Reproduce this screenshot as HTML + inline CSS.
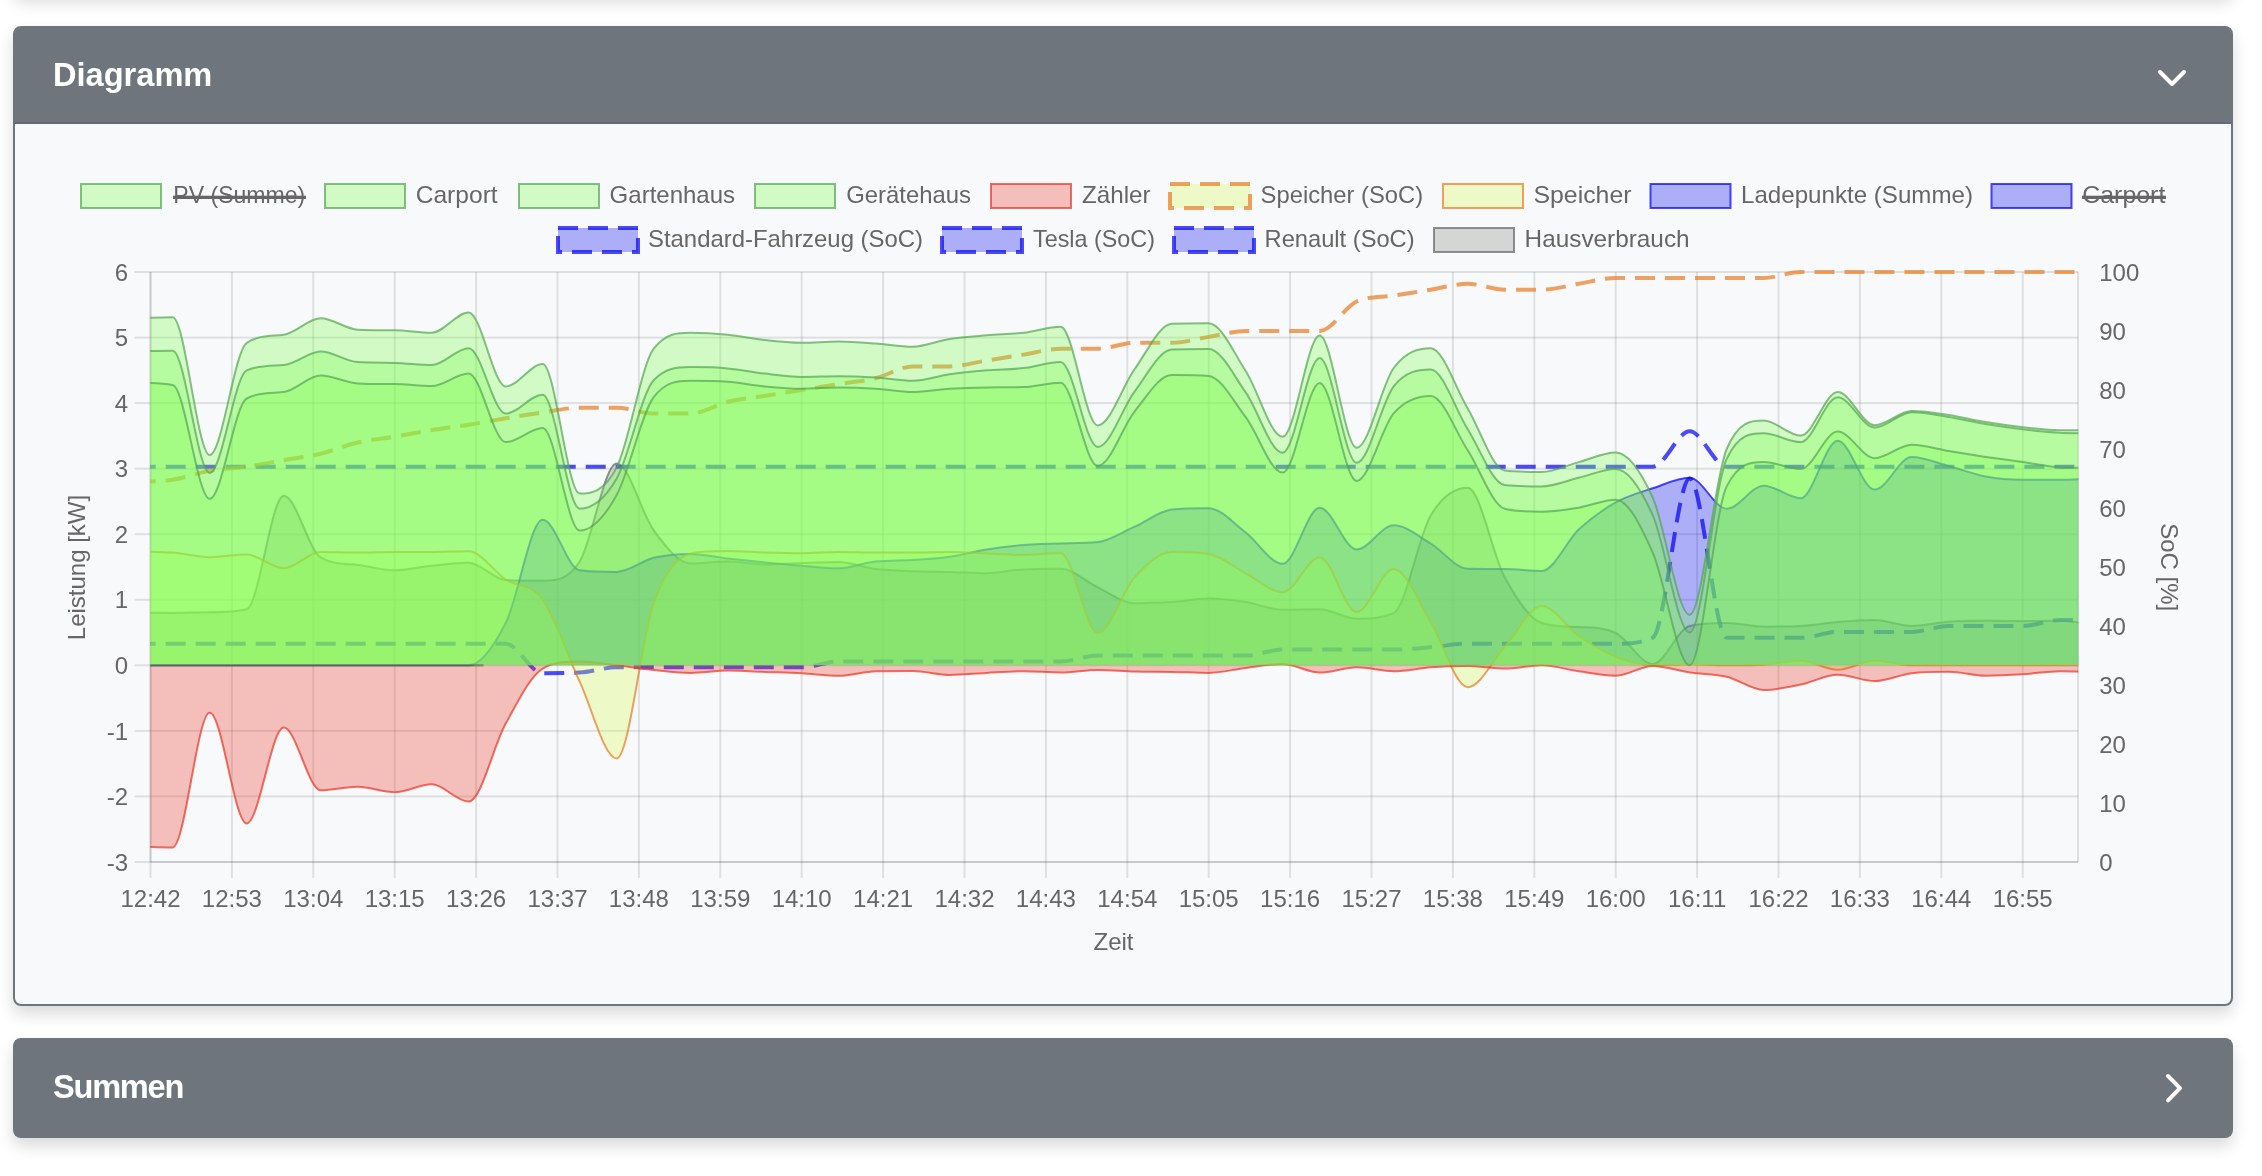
<!DOCTYPE html>
<html lang="de"><head><meta charset="utf-8"><title>Diagramm</title>
<style>
html,body{margin:0;padding:0;background:#fff;}
body{width:2262px;height:1176px;overflow:hidden;position:relative;font-family:"Liberation Sans",Arial,Helvetica,sans-serif;}
.card{position:absolute;left:13px;width:2220px;box-sizing:border-box;border:2px solid #6e757c;border-radius:8px;background:#f8f9fa;box-shadow:0 8px 16px rgba(0,0,0,.15);}
.hdr{background:#6e757c;color:#fff;font-weight:bold;font-size:32.6px;height:96px;line-height:96px;padding-left:38px;position:relative;}
.hdr span{display:inline-block;position:relative;top:-1px;will-change:transform;}
.c2 .hdr span{letter-spacing:-1.25px;}
.prev{top:-106px;height:100px;}
.c1{top:26px;height:980px;}
.c1 .hdr{border-radius:5px 5px 0 0;box-shadow:inset 0 -2px 0 rgba(0,0,0,.09);}
.c2{top:1038px;height:100px;background:#6e757c;}
.chev{position:absolute;}
svg{position:absolute;left:0;top:0;will-change:transform;}
svg text{font-family:"Liberation Sans",Arial,Helvetica,sans-serif;}
</style></head><body>
<div class="card prev"></div>
<div class="card c1"><div class="hdr"><span>Diagramm</span></div></div>
<div class="card c2"><div class="hdr"><span>Summen</span></div></div>
<svg width="2262" height="1176" viewBox="0 0 2262 1176">
<defs><clipPath id="ca"><rect x="150.2" y="269.0" width="1928.1" height="596.0"/></clipPath></defs>
<polyline points="2160,72 2172,84 2184,72" fill="none" stroke="#fff" stroke-width="4" stroke-linecap="round" stroke-linejoin="round"/>
<polyline points="2168,1076 2180,1088.2 2168,1100.4" fill="none" stroke="#fff" stroke-width="4" stroke-linecap="round" stroke-linejoin="round"/>
<g id="legend">
<rect x="81.0" y="184" width="80" height="24" fill="rgba(118,251,72,0.3)" stroke="rgba(83,165,81,0.7)" stroke-width="2"/>
<text x="173.3" y="203.4" fill="#666" font-size="24" textLength="132.0" lengthAdjust="spacingAndGlyphs">PV (Summe)</text>
<rect x="173.0" y="195.7" width="133.0" height="3.3" fill="#666"/>
<rect x="325.0" y="184" width="80" height="24" fill="rgba(118,251,72,0.3)" stroke="rgba(83,165,81,0.7)" stroke-width="2"/>
<text x="415.7" y="203.4" fill="#666" font-size="24" textLength="82.0" lengthAdjust="spacingAndGlyphs">Carport</text>
<rect x="519.0" y="184" width="80" height="24" fill="rgba(118,251,72,0.3)" stroke="rgba(83,165,81,0.7)" stroke-width="2"/>
<text x="609.6" y="203.4" fill="#666" font-size="24" textLength="125.5" lengthAdjust="spacingAndGlyphs">Gartenhaus</text>
<rect x="755.0" y="184" width="80" height="24" fill="rgba(118,251,72,0.3)" stroke="rgba(83,165,81,0.7)" stroke-width="2"/>
<text x="846.2" y="203.4" fill="#666" font-size="24" textLength="124.8" lengthAdjust="spacingAndGlyphs">Gerätehaus</text>
<rect x="991.0" y="184" width="80" height="24" fill="rgba(234,53,40,0.3)" stroke="rgba(234,51,35,0.7)" stroke-width="2"/>
<text x="1082.0" y="203.4" fill="#666" font-size="24" textLength="68.6" lengthAdjust="spacingAndGlyphs">Zähler</text>
<rect x="1170.0" y="184" width="80" height="24" fill="rgba(211,253,83,0.3)" stroke="rgba(231,122,33,0.7)" stroke-width="4" stroke-dasharray="20 10"/>
<text x="1260.6" y="203.4" fill="#666" font-size="24" textLength="162.5" lengthAdjust="spacingAndGlyphs">Speicher (SoC)</text>
<rect x="1443.0" y="184" width="80" height="24" fill="rgba(211,253,83,0.3)" stroke="rgba(231,122,33,0.7)" stroke-width="2"/>
<text x="1533.5" y="203.4" fill="#666" font-size="24" textLength="98.0" lengthAdjust="spacingAndGlyphs">Speicher</text>
<rect x="1650.5" y="184" width="80" height="24" fill="rgba(0,0,245,0.3)" stroke="rgba(0,0,245,0.7)" stroke-width="2"/>
<text x="1741.0" y="203.4" fill="#666" font-size="24" textLength="232.0" lengthAdjust="spacingAndGlyphs">Ladepunkte (Summe)</text>
<rect x="1991.5" y="184" width="80" height="24" fill="rgba(0,0,245,0.3)" stroke="rgba(0,0,245,0.7)" stroke-width="2"/>
<text x="2082.3" y="203.4" fill="#666" font-size="24" textLength="83.0" lengthAdjust="spacingAndGlyphs">Carport</text>
<rect x="2082.0" y="195.7" width="84.0" height="3.3" fill="#666"/>
<rect x="558.0" y="228" width="80" height="24" fill="rgba(0,0,245,0.3)" stroke="rgba(0,0,245,0.7)" stroke-width="4" stroke-dasharray="20 10"/>
<text x="648.0" y="247.4" fill="#666" font-size="24" textLength="275.0" lengthAdjust="spacingAndGlyphs">Standard-Fahrzeug (SoC)</text>
<rect x="942.0" y="228" width="80" height="24" fill="rgba(0,0,245,0.3)" stroke="rgba(0,0,245,0.7)" stroke-width="4" stroke-dasharray="20 10"/>
<text x="1033.0" y="247.4" fill="#666" font-size="24" textLength="122.0" lengthAdjust="spacingAndGlyphs">Tesla (SoC)</text>
<rect x="1174.0" y="228" width="80" height="24" fill="rgba(0,0,245,0.3)" stroke="rgba(0,0,245,0.7)" stroke-width="4" stroke-dasharray="20 10"/>
<text x="1264.6" y="247.4" fill="#666" font-size="24" textLength="150.0" lengthAdjust="spacingAndGlyphs">Renault (SoC)</text>
<rect x="1434.0" y="228" width="80" height="24" fill="rgba(128,128,128,0.3)" stroke="rgba(100,100,100,0.7)" stroke-width="2"/>
<text x="1524.6" y="247.4" fill="#666" font-size="24" textLength="165.0" lengthAdjust="spacingAndGlyphs">Hausverbrauch</text>
</g>
<g id="grid">
<rect x="149.5" y="272.0" width="2" height="606.0" fill="rgba(0,0,0,0.1)"/>
<rect x="230.9" y="272.0" width="2" height="606.0" fill="rgba(0,0,0,0.1)"/>
<rect x="312.3" y="272.0" width="2" height="606.0" fill="rgba(0,0,0,0.1)"/>
<rect x="393.7" y="272.0" width="2" height="606.0" fill="rgba(0,0,0,0.1)"/>
<rect x="475.1" y="272.0" width="2" height="606.0" fill="rgba(0,0,0,0.1)"/>
<rect x="556.5" y="272.0" width="2" height="606.0" fill="rgba(0,0,0,0.1)"/>
<rect x="637.9" y="272.0" width="2" height="606.0" fill="rgba(0,0,0,0.1)"/>
<rect x="719.3" y="272.0" width="2" height="606.0" fill="rgba(0,0,0,0.1)"/>
<rect x="800.7" y="272.0" width="2" height="606.0" fill="rgba(0,0,0,0.1)"/>
<rect x="882.1" y="272.0" width="2" height="606.0" fill="rgba(0,0,0,0.1)"/>
<rect x="963.5" y="272.0" width="2" height="606.0" fill="rgba(0,0,0,0.1)"/>
<rect x="1044.9" y="272.0" width="2" height="606.0" fill="rgba(0,0,0,0.1)"/>
<rect x="1126.3" y="272.0" width="2" height="606.0" fill="rgba(0,0,0,0.1)"/>
<rect x="1207.7" y="272.0" width="2" height="606.0" fill="rgba(0,0,0,0.1)"/>
<rect x="1289.1" y="272.0" width="2" height="606.0" fill="rgba(0,0,0,0.1)"/>
<rect x="1370.5" y="272.0" width="2" height="606.0" fill="rgba(0,0,0,0.1)"/>
<rect x="1451.9" y="272.0" width="2" height="606.0" fill="rgba(0,0,0,0.1)"/>
<rect x="1533.3" y="272.0" width="2" height="606.0" fill="rgba(0,0,0,0.1)"/>
<rect x="1614.7" y="272.0" width="2" height="606.0" fill="rgba(0,0,0,0.1)"/>
<rect x="1696.1" y="272.0" width="2" height="606.0" fill="rgba(0,0,0,0.1)"/>
<rect x="1777.5" y="272.0" width="2" height="606.0" fill="rgba(0,0,0,0.1)"/>
<rect x="1858.9" y="272.0" width="2" height="606.0" fill="rgba(0,0,0,0.1)"/>
<rect x="1940.3" y="272.0" width="2" height="606.0" fill="rgba(0,0,0,0.1)"/>
<rect x="2021.7" y="272.0" width="2" height="606.0" fill="rgba(0,0,0,0.1)"/>
<rect x="134.5" y="271.0" width="1943.5" height="2" fill="rgba(0,0,0,0.1)"/>
<rect x="134.5" y="336.6" width="1943.5" height="2" fill="rgba(0,0,0,0.1)"/>
<rect x="134.5" y="402.1" width="1943.5" height="2" fill="rgba(0,0,0,0.1)"/>
<rect x="134.5" y="467.7" width="1943.5" height="2" fill="rgba(0,0,0,0.1)"/>
<rect x="134.5" y="533.2" width="1943.5" height="2" fill="rgba(0,0,0,0.1)"/>
<rect x="134.5" y="598.8" width="1943.5" height="2" fill="rgba(0,0,0,0.1)"/>
<rect x="134.5" y="664.3" width="1943.5" height="2" fill="rgba(0,0,0,0.1)"/>
<rect x="134.5" y="729.9" width="1943.5" height="2" fill="rgba(0,0,0,0.1)"/>
<rect x="134.5" y="795.4" width="1943.5" height="2" fill="rgba(0,0,0,0.1)"/>
<rect x="134.5" y="861.0" width="1943.5" height="2" fill="rgba(0,0,0,0.1)"/>
<rect x="149.5" y="272.0" width="2" height="590.0" fill="rgba(0,0,0,0.1)"/>
<rect x="2077.0" y="272.0" width="2" height="590.0" fill="rgba(0,0,0,0.1)"/>
<rect x="150.5" y="861.0" width="1927.5" height="2" fill="rgba(0,0,0,0.1)"/>
</g>
<g id="series" clip-path="url(#ca)">
<path d="M135.7,612.7C148.0,612.76 160.4,612.89 172.7,612.9C185.0,612.89 197.4,612.33 209.7,612.2C222.0,612.13 234.4,612.23 246.7,609.2C259.0,606.07 271.4,495.74 283.7,495.7C296.0,495.74 308.4,549.95 320.7,557.4C333.0,564.91 345.4,563.65 357.7,565.0C370.0,566.42 382.4,570.28 394.7,570.3C407.0,570.28 419.4,566.95 431.7,565.7C444.0,564.43 456.4,562.74 468.7,562.7C481.0,562.74 493.4,579.46 505.7,580.1C518.0,580.77 530.4,580.77 542.7,580.8C555.0,580.77 567.4,580.77 579.7,561.5C592.0,542.22 604.4,463.42 616.7,463.4C629.0,463.42 641.4,513.63 653.7,530.3C666.0,546.95 678.4,563.39 690.7,563.4C703.0,563.39 715.4,561.36 727.7,561.4C740.0,561.36 752.4,564.38 764.7,564.4C777.0,564.38 789.4,563.45 801.7,563.1C814.0,562.68 826.4,562.08 838.7,562.1C851.0,562.08 863.4,567.44 875.7,569.0C888.0,570.50 900.4,570.77 912.7,571.3C925.0,571.75 937.4,571.58 949.7,571.9C962.0,572.26 974.4,573.29 986.7,573.3C999.0,573.29 1011.4,569.95 1023.7,569.4C1036.0,568.77 1048.4,568.77 1060.7,568.8C1073.0,568.77 1085.4,581.59 1097.7,587.3C1110.0,593.06 1122.4,603.19 1134.7,603.2C1147.0,603.19 1159.4,602.90 1171.7,602.1C1184.0,601.37 1196.4,598.60 1208.7,598.6C1221.0,598.60 1233.4,600.28 1245.7,602.1C1258.0,604.00 1270.4,609.74 1282.7,609.7C1295.0,609.74 1307.4,609.15 1319.7,609.2C1332.0,609.15 1344.4,618.66 1356.7,618.7C1369.0,618.66 1381.4,618.66 1393.7,613.1C1406.0,607.51 1418.4,536.51 1430.7,515.6C1443.0,494.70 1455.4,487.68 1467.7,487.7C1480.0,487.68 1492.4,554.73 1504.7,577.3C1517.0,599.85 1529.4,619.13 1541.7,623.0C1554.0,626.97 1566.4,626.29 1578.7,627.0C1591.0,627.80 1603.4,627.10 1615.7,633.0C1628.0,638.93 1640.4,664.02 1652.7,664.0C1665.0,664.02 1677.4,628.95 1689.7,626.0C1702.0,623.05 1714.4,623.05 1726.7,623.0C1739.0,623.05 1751.4,626.66 1763.7,626.7C1776.0,626.66 1788.4,626.66 1800.7,626.0C1813.0,625.34 1825.4,623.05 1837.7,622.1C1850.0,621.08 1862.4,620.10 1874.7,620.1C1887.0,620.10 1899.4,626.00 1911.7,626.0C1924.0,626.00 1936.4,622.55 1948.7,621.7C1961.0,620.80 1973.4,620.76 1985.7,620.8C1998.0,620.76 2010.4,621.08 2022.7,621.1C2035.0,621.08 2047.4,620.76 2059.7,620.8C2072.0,620.76 2084.4,623.60 2096.7,625.0L2096.7,665.3L135.7,665.3Z" fill="rgba(128,128,128,0.3)"/>
<path d="M135.7,612.7C148.0,612.76 160.4,612.89 172.7,612.9C185.0,612.89 197.4,612.33 209.7,612.2C222.0,612.13 234.4,612.23 246.7,609.2C259.0,606.07 271.4,495.74 283.7,495.7C296.0,495.74 308.4,549.95 320.7,557.4C333.0,564.91 345.4,563.65 357.7,565.0C370.0,566.42 382.4,570.28 394.7,570.3C407.0,570.28 419.4,566.95 431.7,565.7C444.0,564.43 456.4,562.74 468.7,562.7C481.0,562.74 493.4,579.46 505.7,580.1C518.0,580.77 530.4,580.77 542.7,580.8C555.0,580.77 567.4,580.77 579.7,561.5C592.0,542.22 604.4,463.42 616.7,463.4C629.0,463.42 641.4,513.63 653.7,530.3C666.0,546.95 678.4,563.39 690.7,563.4C703.0,563.39 715.4,561.36 727.7,561.4C740.0,561.36 752.4,564.38 764.7,564.4C777.0,564.38 789.4,563.45 801.7,563.1C814.0,562.68 826.4,562.08 838.7,562.1C851.0,562.08 863.4,567.44 875.7,569.0C888.0,570.50 900.4,570.77 912.7,571.3C925.0,571.75 937.4,571.58 949.7,571.9C962.0,572.26 974.4,573.29 986.7,573.3C999.0,573.29 1011.4,569.95 1023.7,569.4C1036.0,568.77 1048.4,568.77 1060.7,568.8C1073.0,568.77 1085.4,581.59 1097.7,587.3C1110.0,593.06 1122.4,603.19 1134.7,603.2C1147.0,603.19 1159.4,602.90 1171.7,602.1C1184.0,601.37 1196.4,598.60 1208.7,598.6C1221.0,598.60 1233.4,600.28 1245.7,602.1C1258.0,604.00 1270.4,609.74 1282.7,609.7C1295.0,609.74 1307.4,609.15 1319.7,609.2C1332.0,609.15 1344.4,618.66 1356.7,618.7C1369.0,618.66 1381.4,618.66 1393.7,613.1C1406.0,607.51 1418.4,536.51 1430.7,515.6C1443.0,494.70 1455.4,487.68 1467.7,487.7C1480.0,487.68 1492.4,554.73 1504.7,577.3C1517.0,599.85 1529.4,619.13 1541.7,623.0C1554.0,626.97 1566.4,626.29 1578.7,627.0C1591.0,627.80 1603.4,627.10 1615.7,633.0C1628.0,638.93 1640.4,664.02 1652.7,664.0C1665.0,664.02 1677.4,628.95 1689.7,626.0C1702.0,623.05 1714.4,623.05 1726.7,623.0C1739.0,623.05 1751.4,626.66 1763.7,626.7C1776.0,626.66 1788.4,626.66 1800.7,626.0C1813.0,625.34 1825.4,623.05 1837.7,622.1C1850.0,621.08 1862.4,620.10 1874.7,620.1C1887.0,620.10 1899.4,626.00 1911.7,626.0C1924.0,626.00 1936.4,622.55 1948.7,621.7C1961.0,620.80 1973.4,620.76 1985.7,620.8C1998.0,620.76 2010.4,621.08 2022.7,621.1C2035.0,621.08 2047.4,620.76 2059.7,620.8C2072.0,620.76 2084.4,623.60 2096.7,625.0" fill="none" stroke="rgba(100,100,100,0.7)" stroke-width="2"/>
<path d="M135.7,643.7C148.0,643.70 160.4,643.70 172.7,643.7C185.0,643.70 197.4,643.70 209.7,643.7C222.0,643.70 234.4,643.70 246.7,643.7C259.0,643.70 271.4,643.70 283.7,643.7C296.0,643.70 308.4,643.70 320.7,643.7C333.0,643.70 345.4,643.70 357.7,643.7C370.0,643.70 382.4,643.70 394.7,643.7C407.0,643.70 419.4,643.70 431.7,643.7C444.0,643.70 456.4,643.70 468.7,643.7C481.0,643.70 493.4,643.70 505.7,643.7C518.0,643.70 530.4,673.20 542.7,673.2C555.0,673.20 567.4,673.20 579.7,672.6C592.0,672.02 604.4,667.30 616.7,667.3C629.0,667.30 641.4,667.30 653.7,667.3C666.0,667.30 678.4,667.30 690.7,667.3C703.0,667.30 715.4,667.30 727.7,667.3C740.0,667.30 752.4,667.30 764.7,667.3C777.0,667.30 789.4,667.30 801.7,667.3C814.0,667.30 826.4,661.40 838.7,661.4C851.0,661.40 863.4,661.40 875.7,661.4C888.0,661.40 900.4,661.40 912.7,661.4C925.0,661.40 937.4,661.40 949.7,661.4C962.0,661.40 974.4,661.40 986.7,661.4C999.0,661.40 1011.4,661.40 1023.7,661.4C1036.0,661.40 1048.4,661.40 1060.7,661.4C1073.0,661.40 1085.4,655.50 1097.7,655.5C1110.0,655.50 1122.4,655.50 1134.7,655.5C1147.0,655.50 1159.4,655.50 1171.7,655.5C1184.0,655.50 1196.4,655.50 1208.7,655.5C1221.0,655.50 1233.4,655.50 1245.7,655.5C1258.0,655.50 1270.4,649.60 1282.7,649.6C1295.0,649.60 1307.4,649.60 1319.7,649.6C1332.0,649.60 1344.4,649.60 1356.7,649.6C1369.0,649.60 1381.4,649.60 1393.7,649.6C1406.0,649.60 1418.4,648.22 1430.7,647.2C1443.0,646.26 1455.4,643.70 1467.7,643.7C1480.0,643.70 1492.4,643.70 1504.7,643.7C1517.0,643.70 1529.4,643.70 1541.7,643.7C1554.0,643.70 1566.4,643.70 1578.7,643.7C1591.0,643.70 1603.4,643.70 1615.7,643.7C1628.0,643.70 1640.4,643.70 1652.7,637.8C1665.0,631.90 1677.4,478.50 1689.7,478.5C1702.0,478.50 1714.4,637.80 1726.7,637.8C1739.0,637.80 1751.4,637.80 1763.7,637.8C1776.0,637.80 1788.4,637.80 1800.7,637.8C1813.0,637.80 1825.4,631.90 1837.7,631.9C1850.0,631.90 1862.4,631.90 1874.7,631.9C1887.0,631.90 1899.4,631.90 1911.7,631.9C1924.0,631.90 1936.4,626.00 1948.7,626.0C1961.0,626.00 1973.4,626.00 1985.7,626.0C1998.0,626.00 2010.4,626.00 2022.7,626.0C2035.0,626.00 2047.4,620.10 2059.7,620.1C2072.0,620.10 2084.4,620.10 2096.7,620.1" fill="none" stroke="rgba(0,0,245,0.7)" stroke-width="4" stroke-dasharray="20 10"/>
<path d="M135.7,466.7C148.0,466.70 160.4,466.70 172.7,466.7C185.0,466.70 197.4,466.70 209.7,466.7C222.0,466.70 234.4,466.70 246.7,466.7C259.0,466.70 271.4,466.70 283.7,466.7C296.0,466.70 308.4,466.70 320.7,466.7C333.0,466.70 345.4,466.70 357.7,466.7C370.0,466.70 382.4,466.70 394.7,466.7C407.0,466.70 419.4,466.70 431.7,466.7C444.0,466.70 456.4,466.70 468.7,466.7C481.0,466.70 493.4,466.70 505.7,466.7C518.0,466.70 530.4,466.70 542.7,466.7C555.0,466.70 567.4,466.70 579.7,466.7C592.0,466.70 604.4,466.70 616.7,466.7C629.0,466.70 641.4,466.70 653.7,466.7C666.0,466.70 678.4,466.70 690.7,466.7C703.0,466.70 715.4,466.70 727.7,466.7C740.0,466.70 752.4,466.70 764.7,466.7C777.0,466.70 789.4,466.70 801.7,466.7C814.0,466.70 826.4,466.70 838.7,466.7C851.0,466.70 863.4,466.70 875.7,466.7C888.0,466.70 900.4,466.70 912.7,466.7C925.0,466.70 937.4,466.70 949.7,466.7C962.0,466.70 974.4,466.70 986.7,466.7C999.0,466.70 1011.4,466.70 1023.7,466.7C1036.0,466.70 1048.4,466.70 1060.7,466.7C1073.0,466.70 1085.4,466.70 1097.7,466.7C1110.0,466.70 1122.4,466.70 1134.7,466.7C1147.0,466.70 1159.4,466.70 1171.7,466.7C1184.0,466.70 1196.4,466.70 1208.7,466.7C1221.0,466.70 1233.4,466.70 1245.7,466.7C1258.0,466.70 1270.4,466.70 1282.7,466.7C1295.0,466.70 1307.4,466.70 1319.7,466.7C1332.0,466.70 1344.4,466.70 1356.7,466.7C1369.0,466.70 1381.4,466.70 1393.7,466.7C1406.0,466.70 1418.4,466.70 1430.7,466.7C1443.0,466.70 1455.4,466.70 1467.7,466.7C1480.0,466.70 1492.4,466.70 1504.7,466.7C1517.0,466.70 1529.4,466.70 1541.7,466.7C1554.0,466.70 1566.4,466.70 1578.7,466.7C1591.0,466.70 1603.4,466.70 1615.7,466.7C1628.0,466.70 1640.4,466.70 1652.7,466.7C1665.0,466.70 1677.4,431.30 1689.7,431.3C1702.0,431.30 1714.4,466.70 1726.7,466.7C1739.0,466.70 1751.4,466.70 1763.7,466.7C1776.0,466.70 1788.4,466.70 1800.7,466.7C1813.0,466.70 1825.4,466.70 1837.7,466.7C1850.0,466.70 1862.4,466.70 1874.7,466.7C1887.0,466.70 1899.4,466.70 1911.7,466.7C1924.0,466.70 1936.4,466.70 1948.7,466.7C1961.0,466.70 1973.4,466.70 1985.7,466.7C1998.0,466.70 2010.4,466.70 2022.7,466.7C2035.0,466.70 2047.4,466.70 2059.7,466.7C2072.0,466.70 2084.4,466.70 2096.7,466.7" fill="none" stroke="rgba(0,0,245,0.7)" stroke-width="4" stroke-dasharray="20 10"/>
<path d="M135.7,665.3C148.0,665.33 160.4,665.33 172.7,665.3C185.0,665.33 197.4,665.33 209.7,665.3C222.0,665.33 234.4,665.33 246.7,665.3C259.0,665.33 271.4,665.33 283.7,665.3C296.0,665.33 308.4,665.33 320.7,665.3C333.0,665.33 345.4,665.33 357.7,665.3C370.0,665.33 382.4,665.33 394.7,665.3C407.0,665.33 419.4,665.33 431.7,665.3C444.0,665.33 456.4,665.33 468.7,665.3C481.0,665.33 493.4,647.31 505.7,623.0C518.0,598.79 530.4,519.80 542.7,519.8C555.0,519.80 567.4,568.64 579.7,570.3C592.0,571.92 604.4,571.92 616.7,571.9C629.0,571.92 641.4,560.83 653.7,557.8C666.0,554.82 678.4,553.89 690.7,553.9C703.0,553.89 715.4,557.06 727.7,558.5C740.0,559.90 752.4,561.21 764.7,562.4C777.0,563.61 789.4,564.71 801.7,565.7C814.0,566.67 826.4,568.31 838.7,568.3C851.0,568.31 863.4,562.57 875.7,561.4C888.0,560.15 900.4,560.64 912.7,560.0C925.0,559.33 937.4,558.60 949.7,556.8C962.0,555.08 974.4,551.40 986.7,549.4C999.0,547.46 1011.4,546.03 1023.7,545.0C1036.0,544.04 1048.4,543.70 1060.7,543.5C1073.0,543.23 1085.4,543.45 1097.7,542.1C1110.0,540.73 1122.4,531.96 1134.7,526.6C1147.0,521.14 1159.4,511.02 1171.7,509.6C1184.0,508.26 1196.4,508.26 1208.7,508.3C1221.0,508.26 1233.4,523.27 1245.7,532.5C1258.0,541.76 1270.4,563.72 1282.7,563.7C1295.0,563.72 1307.4,507.67 1319.7,507.7C1332.0,507.67 1344.4,549.43 1356.7,549.4C1369.0,549.43 1381.4,525.18 1393.7,525.2C1406.0,525.18 1418.4,536.20 1430.7,543.5C1443.0,550.73 1455.4,568.57 1467.7,568.8C1480.0,568.97 1492.4,568.95 1504.7,569.0C1517.0,568.98 1529.4,570.93 1541.7,570.9C1554.0,570.93 1566.4,541.05 1578.7,529.6C1591.0,518.22 1603.4,509.31 1615.7,502.4C1628.0,495.54 1640.4,492.43 1652.7,488.3C1665.0,484.24 1677.4,477.84 1689.7,477.8C1702.0,477.84 1714.4,508.66 1726.7,508.7C1739.0,508.66 1751.4,485.71 1763.7,485.7C1776.0,485.71 1788.4,498.17 1800.7,498.2C1813.0,498.17 1825.4,440.74 1837.7,440.7C1850.0,440.74 1862.4,489.64 1874.7,489.6C1887.0,489.64 1899.4,456.87 1911.7,456.9C1924.0,456.87 1936.4,462.77 1948.7,466.0C1961.0,469.32 1973.4,474.24 1985.7,476.5C1998.0,478.83 2010.4,479.81 2022.7,479.8C2035.0,479.81 2047.4,479.81 2059.7,479.8C2072.0,479.81 2084.4,478.94 2096.7,478.5L2096.7,665.3L135.7,665.3Z" fill="rgba(0,0,245,0.3)"/>
<path d="M135.7,665.3C148.0,665.33 160.4,665.33 172.7,665.3C185.0,665.33 197.4,665.33 209.7,665.3C222.0,665.33 234.4,665.33 246.7,665.3C259.0,665.33 271.4,665.33 283.7,665.3C296.0,665.33 308.4,665.33 320.7,665.3C333.0,665.33 345.4,665.33 357.7,665.3C370.0,665.33 382.4,665.33 394.7,665.3C407.0,665.33 419.4,665.33 431.7,665.3C444.0,665.33 456.4,665.33 468.7,665.3C481.0,665.33 493.4,647.31 505.7,623.0C518.0,598.79 530.4,519.80 542.7,519.8C555.0,519.80 567.4,568.64 579.7,570.3C592.0,571.92 604.4,571.92 616.7,571.9C629.0,571.92 641.4,560.83 653.7,557.8C666.0,554.82 678.4,553.89 690.7,553.9C703.0,553.89 715.4,557.06 727.7,558.5C740.0,559.90 752.4,561.21 764.7,562.4C777.0,563.61 789.4,564.71 801.7,565.7C814.0,566.67 826.4,568.31 838.7,568.3C851.0,568.31 863.4,562.57 875.7,561.4C888.0,560.15 900.4,560.64 912.7,560.0C925.0,559.33 937.4,558.60 949.7,556.8C962.0,555.08 974.4,551.40 986.7,549.4C999.0,547.46 1011.4,546.03 1023.7,545.0C1036.0,544.04 1048.4,543.70 1060.7,543.5C1073.0,543.23 1085.4,543.45 1097.7,542.1C1110.0,540.73 1122.4,531.96 1134.7,526.6C1147.0,521.14 1159.4,511.02 1171.7,509.6C1184.0,508.26 1196.4,508.26 1208.7,508.3C1221.0,508.26 1233.4,523.27 1245.7,532.5C1258.0,541.76 1270.4,563.72 1282.7,563.7C1295.0,563.72 1307.4,507.67 1319.7,507.7C1332.0,507.67 1344.4,549.43 1356.7,549.4C1369.0,549.43 1381.4,525.18 1393.7,525.2C1406.0,525.18 1418.4,536.20 1430.7,543.5C1443.0,550.73 1455.4,568.57 1467.7,568.8C1480.0,568.97 1492.4,568.95 1504.7,569.0C1517.0,568.98 1529.4,570.93 1541.7,570.9C1554.0,570.93 1566.4,541.05 1578.7,529.6C1591.0,518.22 1603.4,509.31 1615.7,502.4C1628.0,495.54 1640.4,492.43 1652.7,488.3C1665.0,484.24 1677.4,477.84 1689.7,477.8C1702.0,477.84 1714.4,508.66 1726.7,508.7C1739.0,508.66 1751.4,485.71 1763.7,485.7C1776.0,485.71 1788.4,498.17 1800.7,498.2C1813.0,498.17 1825.4,440.74 1837.7,440.7C1850.0,440.74 1862.4,489.64 1874.7,489.6C1887.0,489.64 1899.4,456.87 1911.7,456.9C1924.0,456.87 1936.4,462.77 1948.7,466.0C1961.0,469.32 1973.4,474.24 1985.7,476.5C1998.0,478.83 2010.4,479.81 2022.7,479.8C2035.0,479.81 2047.4,479.81 2059.7,479.8C2072.0,479.81 2084.4,478.94 2096.7,478.5" fill="none" stroke="rgba(0,0,245,0.7)" stroke-width="2"/>
<path d="M135.7,551.3C148.0,551.70 160.4,551.59 172.7,552.6C185.0,553.56 197.4,557.17 209.7,557.2C222.0,557.17 234.4,554.54 246.7,554.5C259.0,554.54 271.4,568.31 283.7,568.3C296.0,568.31 308.4,551.92 320.7,551.9C333.0,551.92 345.4,552.58 357.7,552.6C370.0,552.58 382.4,551.92 394.7,551.9C407.0,551.92 419.4,551.92 431.7,551.9C444.0,551.92 456.4,551.27 468.7,551.3C481.0,551.27 493.4,571.37 505.7,579.5C518.0,587.54 530.4,582.73 542.7,599.8C555.0,616.82 567.4,655.28 579.7,681.7C592.0,708.16 604.4,758.42 616.7,758.4C629.0,758.42 641.4,637.22 653.7,603.1C666.0,568.89 678.4,555.86 690.7,553.4C703.0,551.00 715.4,551.00 727.7,551.0C740.0,551.00 752.4,552.21 764.7,552.6C777.0,552.95 789.4,553.23 801.7,553.2C814.0,553.23 826.4,551.92 838.7,551.9C851.0,551.92 863.4,552.58 875.7,552.6C888.0,552.58 900.4,552.58 912.7,552.6C925.0,552.58 937.4,551.92 949.7,551.9C962.0,551.92 974.4,552.92 986.7,553.4C999.0,553.94 1011.4,555.00 1023.7,555.0C1036.0,555.00 1048.4,553.04 1060.7,553.0C1073.0,553.04 1085.4,633.01 1097.7,633.0C1110.0,633.01 1122.4,590.79 1134.7,577.3C1147.0,563.80 1159.4,552.05 1171.7,552.1C1184.0,552.05 1196.4,552.05 1208.7,553.9C1221.0,555.72 1233.4,566.90 1245.7,573.3C1258.0,579.68 1270.4,592.24 1282.7,592.2C1295.0,592.24 1307.4,557.43 1319.7,557.4C1332.0,557.43 1344.4,612.10 1356.7,612.1C1369.0,612.10 1381.4,568.97 1393.7,569.0C1406.0,568.97 1418.4,602.36 1430.7,622.1C1443.0,641.78 1455.4,687.23 1467.7,687.2C1480.0,687.23 1492.4,660.50 1504.7,647.0C1517.0,633.45 1529.4,606.07 1541.7,606.1C1554.0,606.07 1566.4,627.51 1578.7,636.0C1591.0,644.42 1603.4,651.92 1615.7,656.8C1628.0,661.71 1640.4,665.33 1652.7,665.3C1665.0,665.33 1677.4,664.02 1689.7,664.0C1702.0,664.02 1714.4,665.33 1726.7,665.3C1739.0,665.33 1751.4,665.33 1763.7,664.7C1776.0,664.02 1788.4,660.74 1800.7,660.7C1813.0,660.74 1825.4,669.73 1837.7,669.7C1850.0,669.73 1862.4,660.74 1874.7,660.7C1887.0,660.74 1899.4,665.33 1911.7,665.3C1924.0,665.33 1936.4,665.33 1948.7,665.3C1961.0,665.33 1973.4,665.33 1985.7,665.3C1998.0,665.33 2010.4,665.33 2022.7,665.3C2035.0,665.33 2047.4,665.33 2059.7,665.3C2072.0,665.33 2084.4,665.33 2096.7,665.3L2096.7,665.3L135.7,665.3Z" fill="rgba(211,253,83,0.3)"/>
<path d="M135.7,551.3C148.0,551.70 160.4,551.59 172.7,552.6C185.0,553.56 197.4,557.17 209.7,557.2C222.0,557.17 234.4,554.54 246.7,554.5C259.0,554.54 271.4,568.31 283.7,568.3C296.0,568.31 308.4,551.92 320.7,551.9C333.0,551.92 345.4,552.58 357.7,552.6C370.0,552.58 382.4,551.92 394.7,551.9C407.0,551.92 419.4,551.92 431.7,551.9C444.0,551.92 456.4,551.27 468.7,551.3C481.0,551.27 493.4,571.37 505.7,579.5C518.0,587.54 530.4,582.73 542.7,599.8C555.0,616.82 567.4,655.28 579.7,681.7C592.0,708.16 604.4,758.42 616.7,758.4C629.0,758.42 641.4,637.22 653.7,603.1C666.0,568.89 678.4,555.86 690.7,553.4C703.0,551.00 715.4,551.00 727.7,551.0C740.0,551.00 752.4,552.21 764.7,552.6C777.0,552.95 789.4,553.23 801.7,553.2C814.0,553.23 826.4,551.92 838.7,551.9C851.0,551.92 863.4,552.58 875.7,552.6C888.0,552.58 900.4,552.58 912.7,552.6C925.0,552.58 937.4,551.92 949.7,551.9C962.0,551.92 974.4,552.92 986.7,553.4C999.0,553.94 1011.4,555.00 1023.7,555.0C1036.0,555.00 1048.4,553.04 1060.7,553.0C1073.0,553.04 1085.4,633.01 1097.7,633.0C1110.0,633.01 1122.4,590.79 1134.7,577.3C1147.0,563.80 1159.4,552.05 1171.7,552.1C1184.0,552.05 1196.4,552.05 1208.7,553.9C1221.0,555.72 1233.4,566.90 1245.7,573.3C1258.0,579.68 1270.4,592.24 1282.7,592.2C1295.0,592.24 1307.4,557.43 1319.7,557.4C1332.0,557.43 1344.4,612.10 1356.7,612.1C1369.0,612.10 1381.4,568.97 1393.7,569.0C1406.0,568.97 1418.4,602.36 1430.7,622.1C1443.0,641.78 1455.4,687.23 1467.7,687.2C1480.0,687.23 1492.4,660.50 1504.7,647.0C1517.0,633.45 1529.4,606.07 1541.7,606.1C1554.0,606.07 1566.4,627.51 1578.7,636.0C1591.0,644.42 1603.4,651.92 1615.7,656.8C1628.0,661.71 1640.4,665.33 1652.7,665.3C1665.0,665.33 1677.4,664.02 1689.7,664.0C1702.0,664.02 1714.4,665.33 1726.7,665.3C1739.0,665.33 1751.4,665.33 1763.7,664.7C1776.0,664.02 1788.4,660.74 1800.7,660.7C1813.0,660.74 1825.4,669.73 1837.7,669.7C1850.0,669.73 1862.4,660.74 1874.7,660.7C1887.0,660.74 1899.4,665.33 1911.7,665.3C1924.0,665.33 1936.4,665.33 1948.7,665.3C1961.0,665.33 1973.4,665.33 1985.7,665.3C1998.0,665.33 2010.4,665.33 2022.7,665.3C2035.0,665.33 2047.4,665.33 2059.7,665.3C2072.0,665.33 2084.4,665.33 2096.7,665.3" fill="none" stroke="rgba(231,122,33,0.7)" stroke-width="2"/>
<path d="M135.7,482.0C148.0,481.25 160.4,481.55 172.7,479.7C185.0,477.81 197.4,472.99 209.7,470.8C222.0,468.67 234.4,468.47 246.7,466.7C259.0,464.93 271.4,462.37 283.7,460.2C296.0,458.05 308.4,456.67 320.7,453.7C333.0,450.77 345.4,445.36 357.7,442.5C370.0,439.66 382.4,438.68 394.7,436.6C407.0,434.55 419.4,432.09 431.7,430.1C444.0,428.15 456.4,426.78 468.7,424.8C481.0,422.84 493.4,420.38 505.7,418.3C518.0,416.25 530.4,414.19 542.7,412.4C555.0,410.65 567.4,407.70 579.7,407.7C592.0,407.70 604.4,407.70 616.7,407.7C629.0,407.70 641.4,413.60 653.7,413.6C666.0,413.60 678.4,413.60 690.7,413.6C703.0,413.60 715.4,404.75 727.7,401.8C740.0,398.85 752.4,397.87 764.7,395.9C777.0,393.93 789.4,391.97 801.7,390.0C814.0,388.03 826.4,386.07 838.7,384.1C851.0,382.13 863.4,381.15 875.7,378.2C888.0,375.25 900.4,366.40 912.7,366.4C925.0,366.40 937.4,366.40 949.7,366.4C962.0,366.40 974.4,362.47 986.7,360.5C999.0,358.53 1011.4,356.57 1023.7,354.6C1036.0,352.63 1048.4,348.70 1060.7,348.7C1073.0,348.70 1085.4,348.70 1097.7,348.7C1110.0,348.70 1122.4,342.80 1134.7,342.8C1147.0,342.80 1159.4,342.80 1171.7,342.8C1184.0,342.80 1196.4,338.87 1208.7,336.9C1221.0,334.93 1233.4,331.00 1245.7,331.0C1258.0,331.00 1270.4,331.00 1282.7,331.0C1295.0,331.00 1307.4,331.00 1319.7,331.0C1332.0,331.00 1344.4,307.10 1356.7,301.5C1369.0,295.90 1381.4,297.47 1393.7,295.6C1406.0,293.73 1418.4,291.67 1430.7,289.7C1443.0,287.73 1455.4,283.80 1467.7,283.8C1480.0,283.80 1492.4,289.70 1504.7,289.7C1517.0,289.70 1529.4,289.70 1541.7,289.7C1554.0,289.70 1566.4,285.77 1578.7,283.8C1591.0,281.83 1603.4,277.90 1615.7,277.9C1628.0,277.90 1640.4,277.90 1652.7,277.9C1665.0,277.90 1677.4,277.90 1689.7,277.9C1702.0,277.90 1714.4,277.90 1726.7,277.9C1739.0,277.90 1751.4,277.90 1763.7,277.9C1776.0,277.90 1788.4,272.00 1800.7,272.0C1813.0,272.00 1825.4,272.00 1837.7,272.0C1850.0,272.00 1862.4,272.00 1874.7,272.0C1887.0,272.00 1899.4,272.00 1911.7,272.0C1924.0,272.00 1936.4,272.00 1948.7,272.0C1961.0,272.00 1973.4,272.00 1985.7,272.0C1998.0,272.00 2010.4,272.00 2022.7,272.0C2035.0,272.00 2047.4,272.00 2059.7,272.0C2072.0,272.00 2084.4,272.00 2096.7,272.0" fill="none" stroke="rgba(231,122,33,0.7)" stroke-width="4" stroke-dasharray="20 10"/>
<path d="M135.7,846.6C148.0,846.86 160.4,847.38 172.7,847.4C185.0,847.38 197.4,712.66 209.7,712.7C222.0,712.66 234.4,823.52 246.7,823.5C259.0,823.52 271.4,727.61 283.7,727.6C296.0,727.61 308.4,790.28 320.7,790.3C333.0,790.28 345.4,786.68 357.7,786.7C370.0,786.68 382.4,792.25 394.7,792.2C407.0,792.25 419.4,784.32 431.7,784.3C444.0,784.32 456.4,801.62 468.7,801.6C481.0,801.62 493.4,745.78 505.7,723.6C518.0,701.44 530.4,675.82 542.7,668.6C555.0,661.40 567.4,661.40 579.7,661.4C592.0,661.40 604.4,663.91 616.7,665.3C629.0,666.75 641.4,668.67 653.7,669.9C666.0,671.18 678.4,672.87 690.7,672.9C703.0,672.87 715.4,670.58 727.7,670.6C740.0,670.58 752.4,671.45 764.7,671.9C777.0,672.33 789.4,672.54 801.7,673.2C814.0,673.86 826.4,675.82 838.7,675.8C851.0,675.82 863.4,671.56 875.7,671.2C888.0,670.91 900.4,670.91 912.7,670.9C925.0,670.91 937.4,674.90 949.7,674.9C962.0,674.90 974.4,673.48 986.7,672.9C999.0,672.26 1011.4,671.23 1023.7,671.2C1036.0,671.23 1048.4,672.54 1060.7,672.5C1073.0,672.54 1085.4,669.92 1097.7,669.9C1110.0,669.92 1122.4,671.17 1134.7,671.5C1147.0,671.82 1159.4,671.66 1171.7,671.9C1184.0,672.11 1196.4,672.87 1208.7,672.9C1221.0,672.87 1233.4,669.43 1245.7,668.0C1258.0,666.48 1270.4,664.02 1282.7,664.0C1295.0,664.02 1307.4,672.54 1319.7,672.5C1332.0,672.54 1344.4,667.30 1356.7,667.3C1369.0,667.30 1381.4,671.23 1393.7,671.2C1406.0,671.23 1418.4,668.15 1430.7,667.3C1443.0,666.45 1455.4,666.12 1467.7,666.1C1480.0,666.12 1492.4,668.61 1504.7,668.6C1517.0,668.61 1529.4,665.33 1541.7,665.3C1554.0,665.33 1566.4,669.51 1578.7,671.2C1591.0,672.96 1603.4,675.69 1615.7,675.7C1628.0,675.69 1640.4,665.99 1652.7,666.0C1665.0,665.99 1677.4,670.76 1689.7,672.5C1702.0,674.33 1714.4,673.77 1726.7,676.7C1739.0,679.58 1751.4,689.98 1763.7,690.0C1776.0,689.98 1788.4,687.15 1800.7,684.6C1813.0,682.06 1825.4,674.71 1837.7,674.7C1850.0,674.71 1862.4,681.07 1874.7,681.1C1887.0,681.07 1899.4,674.71 1911.7,673.2C1924.0,671.69 1936.4,671.69 1948.7,671.7C1961.0,671.69 1973.4,675.69 1985.7,675.7C1998.0,675.69 2010.4,675.06 2022.7,674.3C2035.0,673.57 2047.4,671.23 2059.7,671.2C2072.0,671.23 2084.4,671.54 2096.7,671.7L2096.7,665.3L135.7,665.3Z" fill="rgba(234,53,40,0.3)"/>
<path d="M135.7,846.6C148.0,846.86 160.4,847.38 172.7,847.4C185.0,847.38 197.4,712.66 209.7,712.7C222.0,712.66 234.4,823.52 246.7,823.5C259.0,823.52 271.4,727.61 283.7,727.6C296.0,727.61 308.4,790.28 320.7,790.3C333.0,790.28 345.4,786.68 357.7,786.7C370.0,786.68 382.4,792.25 394.7,792.2C407.0,792.25 419.4,784.32 431.7,784.3C444.0,784.32 456.4,801.62 468.7,801.6C481.0,801.62 493.4,745.78 505.7,723.6C518.0,701.44 530.4,675.82 542.7,668.6C555.0,661.40 567.4,661.40 579.7,661.4C592.0,661.40 604.4,663.91 616.7,665.3C629.0,666.75 641.4,668.67 653.7,669.9C666.0,671.18 678.4,672.87 690.7,672.9C703.0,672.87 715.4,670.58 727.7,670.6C740.0,670.58 752.4,671.45 764.7,671.9C777.0,672.33 789.4,672.54 801.7,673.2C814.0,673.86 826.4,675.82 838.7,675.8C851.0,675.82 863.4,671.56 875.7,671.2C888.0,670.91 900.4,670.91 912.7,670.9C925.0,670.91 937.4,674.90 949.7,674.9C962.0,674.90 974.4,673.48 986.7,672.9C999.0,672.26 1011.4,671.23 1023.7,671.2C1036.0,671.23 1048.4,672.54 1060.7,672.5C1073.0,672.54 1085.4,669.92 1097.7,669.9C1110.0,669.92 1122.4,671.17 1134.7,671.5C1147.0,671.82 1159.4,671.66 1171.7,671.9C1184.0,672.11 1196.4,672.87 1208.7,672.9C1221.0,672.87 1233.4,669.43 1245.7,668.0C1258.0,666.48 1270.4,664.02 1282.7,664.0C1295.0,664.02 1307.4,672.54 1319.7,672.5C1332.0,672.54 1344.4,667.30 1356.7,667.3C1369.0,667.30 1381.4,671.23 1393.7,671.2C1406.0,671.23 1418.4,668.15 1430.7,667.3C1443.0,666.45 1455.4,666.12 1467.7,666.1C1480.0,666.12 1492.4,668.61 1504.7,668.6C1517.0,668.61 1529.4,665.33 1541.7,665.3C1554.0,665.33 1566.4,669.51 1578.7,671.2C1591.0,672.96 1603.4,675.69 1615.7,675.7C1628.0,675.69 1640.4,665.99 1652.7,666.0C1665.0,665.99 1677.4,670.76 1689.7,672.5C1702.0,674.33 1714.4,673.77 1726.7,676.7C1739.0,679.58 1751.4,689.98 1763.7,690.0C1776.0,689.98 1788.4,687.15 1800.7,684.6C1813.0,682.06 1825.4,674.71 1837.7,674.7C1850.0,674.71 1862.4,681.07 1874.7,681.1C1887.0,681.07 1899.4,674.71 1911.7,673.2C1924.0,671.69 1936.4,671.69 1948.7,671.7C1961.0,671.69 1973.4,675.69 1985.7,675.7C1998.0,675.69 2010.4,675.06 2022.7,674.3C2035.0,673.57 2047.4,671.23 2059.7,671.2C2072.0,671.23 2084.4,671.54 2096.7,671.7" fill="none" stroke="rgba(234,51,35,0.7)" stroke-width="2"/>
<path d="M135.7,318.2C148.0,317.85 160.4,317.23 172.7,317.2C185.0,317.23 197.4,455.03 209.7,455.0C222.0,455.03 234.4,350.77 246.7,342.8C259.0,334.83 271.4,336.29 283.7,334.7C296.0,333.05 308.4,318.35 320.7,318.3C333.0,318.35 345.4,329.05 357.7,329.7C370.0,330.32 382.4,330.18 394.7,330.3C407.0,330.50 419.4,332.70 431.7,332.7C444.0,332.70 456.4,312.38 468.7,312.4C481.0,312.38 493.4,386.39 505.7,386.4C518.0,386.39 530.4,364.11 542.7,364.1C555.0,364.11 567.4,493.58 579.7,493.6C592.0,493.58 604.4,491.50 616.7,467.4C629.0,443.21 641.4,364.70 653.7,348.7C666.0,332.70 678.4,332.70 690.7,332.7C703.0,332.70 715.4,333.45 727.7,334.7C740.0,335.89 752.4,338.69 764.7,340.0C777.0,341.40 789.4,342.80 801.7,342.8C814.0,342.80 826.4,341.49 838.7,341.5C851.0,341.49 863.4,342.58 875.7,343.5C888.0,344.33 900.4,346.73 912.7,346.7C925.0,346.73 937.4,340.78 949.7,338.9C962.0,336.95 974.4,336.29 986.7,335.3C999.0,334.23 1011.4,334.12 1023.7,332.7C1036.0,331.28 1048.4,326.74 1060.7,326.7C1073.0,326.74 1085.4,425.40 1097.7,425.4C1110.0,425.40 1122.4,385.96 1134.7,369.0C1147.0,352.09 1159.4,324.25 1171.7,323.8C1184.0,323.33 1196.4,323.33 1208.7,323.3C1221.0,323.33 1233.4,352.09 1245.7,371.0C1258.0,389.89 1270.4,436.74 1282.7,436.7C1295.0,436.74 1307.4,335.59 1319.7,335.6C1332.0,335.59 1344.4,447.69 1356.7,447.7C1369.0,447.69 1381.4,384.62 1393.7,368.0C1406.0,351.45 1418.4,348.18 1430.7,348.2C1443.0,348.18 1455.4,387.95 1467.7,408.4C1480.0,428.77 1492.4,469.32 1504.7,470.6C1517.0,471.94 1529.4,471.94 1541.7,471.9C1554.0,471.94 1566.4,465.36 1578.7,462.1C1591.0,458.87 1603.4,452.47 1615.7,452.5C1628.0,452.47 1640.4,470.47 1652.7,497.5C1665.0,524.55 1677.4,614.72 1689.7,614.7C1702.0,614.72 1714.4,477.39 1726.7,449.0C1739.0,420.61 1751.4,420.61 1763.7,420.6C1776.0,420.61 1788.4,435.56 1800.7,435.6C1813.0,435.56 1825.4,391.97 1837.7,392.0C1850.0,391.97 1862.4,425.20 1874.7,425.2C1887.0,425.20 1899.4,410.98 1911.7,411.0C1924.0,410.98 1936.4,413.05 1948.7,414.9C1961.0,416.77 1973.4,420.08 1985.7,422.1C1998.0,424.17 2010.4,425.83 2022.7,427.2C2035.0,428.51 2047.4,430.19 2059.7,430.2C2072.0,430.19 2084.4,430.19 2096.7,430.2L2096.7,665.3L135.7,665.3Z" fill="rgba(118,251,72,0.3)"/>
<path d="M135.7,318.2C148.0,317.85 160.4,317.23 172.7,317.2C185.0,317.23 197.4,455.03 209.7,455.0C222.0,455.03 234.4,350.77 246.7,342.8C259.0,334.83 271.4,336.29 283.7,334.7C296.0,333.05 308.4,318.35 320.7,318.3C333.0,318.35 345.4,329.05 357.7,329.7C370.0,330.32 382.4,330.18 394.7,330.3C407.0,330.50 419.4,332.70 431.7,332.7C444.0,332.70 456.4,312.38 468.7,312.4C481.0,312.38 493.4,386.39 505.7,386.4C518.0,386.39 530.4,364.11 542.7,364.1C555.0,364.11 567.4,493.58 579.7,493.6C592.0,493.58 604.4,491.50 616.7,467.4C629.0,443.21 641.4,364.70 653.7,348.7C666.0,332.70 678.4,332.70 690.7,332.7C703.0,332.70 715.4,333.45 727.7,334.7C740.0,335.89 752.4,338.69 764.7,340.0C777.0,341.40 789.4,342.80 801.7,342.8C814.0,342.80 826.4,341.49 838.7,341.5C851.0,341.49 863.4,342.58 875.7,343.5C888.0,344.33 900.4,346.73 912.7,346.7C925.0,346.73 937.4,340.78 949.7,338.9C962.0,336.95 974.4,336.29 986.7,335.3C999.0,334.23 1011.4,334.12 1023.7,332.7C1036.0,331.28 1048.4,326.74 1060.7,326.7C1073.0,326.74 1085.4,425.40 1097.7,425.4C1110.0,425.40 1122.4,385.96 1134.7,369.0C1147.0,352.09 1159.4,324.25 1171.7,323.8C1184.0,323.33 1196.4,323.33 1208.7,323.3C1221.0,323.33 1233.4,352.09 1245.7,371.0C1258.0,389.89 1270.4,436.74 1282.7,436.7C1295.0,436.74 1307.4,335.59 1319.7,335.6C1332.0,335.59 1344.4,447.69 1356.7,447.7C1369.0,447.69 1381.4,384.62 1393.7,368.0C1406.0,351.45 1418.4,348.18 1430.7,348.2C1443.0,348.18 1455.4,387.95 1467.7,408.4C1480.0,428.77 1492.4,469.32 1504.7,470.6C1517.0,471.94 1529.4,471.94 1541.7,471.9C1554.0,471.94 1566.4,465.36 1578.7,462.1C1591.0,458.87 1603.4,452.47 1615.7,452.5C1628.0,452.47 1640.4,470.47 1652.7,497.5C1665.0,524.55 1677.4,614.72 1689.7,614.7C1702.0,614.72 1714.4,477.39 1726.7,449.0C1739.0,420.61 1751.4,420.61 1763.7,420.6C1776.0,420.61 1788.4,435.56 1800.7,435.6C1813.0,435.56 1825.4,391.97 1837.7,392.0C1850.0,391.97 1862.4,425.20 1874.7,425.2C1887.0,425.20 1899.4,410.98 1911.7,411.0C1924.0,410.98 1936.4,413.05 1948.7,414.9C1961.0,416.77 1973.4,420.08 1985.7,422.1C1998.0,424.17 2010.4,425.83 2022.7,427.2C2035.0,428.51 2047.4,430.19 2059.7,430.2C2072.0,430.19 2084.4,430.19 2096.7,430.2" fill="none" stroke="rgba(83,165,81,0.7)" stroke-width="2"/>
<path d="M135.7,351.3C148.0,351.10 160.4,350.67 172.7,350.7C185.0,350.67 197.4,472.93 209.7,472.9C222.0,472.93 234.4,375.50 246.7,370.3C259.0,365.17 271.4,365.99 283.7,365.1C296.0,364.19 308.4,351.58 320.7,351.6C333.0,351.58 345.4,361.38 357.7,362.1C370.0,362.90 382.4,362.73 394.7,362.9C407.0,363.12 419.4,365.09 431.7,365.1C444.0,365.09 456.4,348.18 468.7,348.2C481.0,348.18 493.4,413.60 505.7,413.6C518.0,413.60 530.4,394.79 542.7,394.8C555.0,394.79 567.4,508.66 579.7,508.7C592.0,508.66 604.4,499.91 616.7,478.5C629.0,457.09 641.4,393.28 653.7,380.2C666.0,367.06 678.4,367.06 690.7,367.1C703.0,367.06 715.4,367.27 727.7,368.4C740.0,369.46 752.4,372.19 764.7,373.6C777.0,375.03 789.4,376.89 801.7,376.9C814.0,376.89 826.4,376.23 838.7,376.2C851.0,376.23 863.4,376.78 875.7,377.5C888.0,378.31 900.4,380.82 912.7,380.8C925.0,380.82 937.4,376.01 949.7,374.3C962.0,372.52 974.4,371.36 986.7,370.3C999.0,369.31 1011.4,369.50 1023.7,368.1C1036.0,366.71 1048.4,361.94 1060.7,361.9C1073.0,361.94 1085.4,447.03 1097.7,447.0C1110.0,447.03 1122.4,407.55 1134.7,391.3C1147.0,375.08 1159.4,350.21 1171.7,349.6C1184.0,349.03 1196.4,349.03 1208.7,349.0C1221.0,349.03 1233.4,375.09 1245.7,392.4C1258.0,409.63 1270.4,452.67 1282.7,452.7C1295.0,452.67 1307.4,358.14 1319.7,358.1C1332.0,358.14 1344.4,462.77 1356.7,462.8C1369.0,462.77 1381.4,401.94 1393.7,386.4C1406.0,370.85 1418.4,369.48 1430.7,369.5C1443.0,369.48 1455.4,410.07 1467.7,429.3C1480.0,448.60 1492.4,483.74 1504.7,485.1C1517.0,486.37 1529.4,486.37 1541.7,486.4C1554.0,486.37 1566.4,480.74 1578.7,477.8C1591.0,474.95 1603.4,468.99 1615.7,469.0C1628.0,468.99 1640.4,487.95 1652.7,515.2C1665.0,542.47 1677.4,632.56 1689.7,632.6C1702.0,632.56 1714.4,484.40 1726.7,458.8C1739.0,433.27 1751.4,433.27 1763.7,433.3C1776.0,433.27 1788.4,442.12 1800.7,442.1C1813.0,442.12 1825.4,397.21 1837.7,397.2C1850.0,397.21 1862.4,427.56 1874.7,427.6C1887.0,427.56 1899.4,412.29 1911.7,412.3C1924.0,412.29 1936.4,414.91 1948.7,416.9C1961.0,418.84 1973.4,422.01 1985.7,424.1C1998.0,426.16 2010.4,427.89 2022.7,429.3C2035.0,430.78 2047.4,432.24 2059.7,432.7C2072.0,433.25 2084.4,433.13 2096.7,433.3L2096.7,665.3L135.7,665.3Z" fill="rgba(118,251,72,0.3)"/>
<path d="M135.7,351.3C148.0,351.10 160.4,350.67 172.7,350.7C185.0,350.67 197.4,472.93 209.7,472.9C222.0,472.93 234.4,375.50 246.7,370.3C259.0,365.17 271.4,365.99 283.7,365.1C296.0,364.19 308.4,351.58 320.7,351.6C333.0,351.58 345.4,361.38 357.7,362.1C370.0,362.90 382.4,362.73 394.7,362.9C407.0,363.12 419.4,365.09 431.7,365.1C444.0,365.09 456.4,348.18 468.7,348.2C481.0,348.18 493.4,413.60 505.7,413.6C518.0,413.60 530.4,394.79 542.7,394.8C555.0,394.79 567.4,508.66 579.7,508.7C592.0,508.66 604.4,499.91 616.7,478.5C629.0,457.09 641.4,393.28 653.7,380.2C666.0,367.06 678.4,367.06 690.7,367.1C703.0,367.06 715.4,367.27 727.7,368.4C740.0,369.46 752.4,372.19 764.7,373.6C777.0,375.03 789.4,376.89 801.7,376.9C814.0,376.89 826.4,376.23 838.7,376.2C851.0,376.23 863.4,376.78 875.7,377.5C888.0,378.31 900.4,380.82 912.7,380.8C925.0,380.82 937.4,376.01 949.7,374.3C962.0,372.52 974.4,371.36 986.7,370.3C999.0,369.31 1011.4,369.50 1023.7,368.1C1036.0,366.71 1048.4,361.94 1060.7,361.9C1073.0,361.94 1085.4,447.03 1097.7,447.0C1110.0,447.03 1122.4,407.55 1134.7,391.3C1147.0,375.08 1159.4,350.21 1171.7,349.6C1184.0,349.03 1196.4,349.03 1208.7,349.0C1221.0,349.03 1233.4,375.09 1245.7,392.4C1258.0,409.63 1270.4,452.67 1282.7,452.7C1295.0,452.67 1307.4,358.14 1319.7,358.1C1332.0,358.14 1344.4,462.77 1356.7,462.8C1369.0,462.77 1381.4,401.94 1393.7,386.4C1406.0,370.85 1418.4,369.48 1430.7,369.5C1443.0,369.48 1455.4,410.07 1467.7,429.3C1480.0,448.60 1492.4,483.74 1504.7,485.1C1517.0,486.37 1529.4,486.37 1541.7,486.4C1554.0,486.37 1566.4,480.74 1578.7,477.8C1591.0,474.95 1603.4,468.99 1615.7,469.0C1628.0,468.99 1640.4,487.95 1652.7,515.2C1665.0,542.47 1677.4,632.56 1689.7,632.6C1702.0,632.56 1714.4,484.40 1726.7,458.8C1739.0,433.27 1751.4,433.27 1763.7,433.3C1776.0,433.27 1788.4,442.12 1800.7,442.1C1813.0,442.12 1825.4,397.21 1837.7,397.2C1850.0,397.21 1862.4,427.56 1874.7,427.6C1887.0,427.56 1899.4,412.29 1911.7,412.3C1924.0,412.29 1936.4,414.91 1948.7,416.9C1961.0,418.84 1973.4,422.01 1985.7,424.1C1998.0,426.16 2010.4,427.89 2022.7,429.3C2035.0,430.78 2047.4,432.24 2059.7,432.7C2072.0,433.25 2084.4,433.13 2096.7,433.3" fill="none" stroke="rgba(83,165,81,0.7)" stroke-width="2"/>
<path d="M135.7,382.8C148.0,382.87 160.4,382.79 172.7,385.0C185.0,387.25 197.4,498.82 209.7,498.8C222.0,498.82 234.4,404.93 246.7,398.5C259.0,392.11 271.4,393.34 283.7,392.0C296.0,390.59 308.4,375.58 320.7,375.6C333.0,375.58 345.4,382.82 357.7,383.4C370.0,384.07 382.4,383.91 394.7,384.1C407.0,384.29 419.4,386.07 431.7,386.1C444.0,386.07 456.4,373.61 468.7,373.6C481.0,373.61 493.4,442.12 505.7,442.1C518.0,442.12 530.4,428.02 542.7,428.0C555.0,428.02 567.4,530.55 579.7,530.6C592.0,530.55 604.4,517.11 616.7,494.9C629.0,472.67 641.4,413.60 653.7,397.2C666.0,380.82 678.4,380.82 690.7,380.8C703.0,380.82 715.4,380.88 727.7,381.8C740.0,382.73 752.4,385.25 764.7,386.4C777.0,387.54 789.4,388.69 801.7,388.7C814.0,388.69 826.4,387.38 838.7,387.4C851.0,387.38 863.4,387.92 875.7,388.7C888.0,389.45 900.4,391.97 912.7,392.0C925.0,391.97 937.4,389.45 949.7,388.7C962.0,387.92 974.4,387.51 986.7,387.4C999.0,387.24 1011.4,387.35 1023.7,387.0C1036.0,386.62 1048.4,382.79 1060.7,382.8C1073.0,382.79 1085.4,466.04 1097.7,466.0C1110.0,466.04 1122.4,426.47 1134.7,411.3C1147.0,396.14 1159.4,375.05 1171.7,375.1C1184.0,375.05 1196.4,375.05 1208.7,376.0C1221.0,377.02 1233.4,401.11 1245.7,417.2C1258.0,433.30 1270.4,472.60 1282.7,472.6C1295.0,472.60 1307.4,382.99 1319.7,383.0C1332.0,382.99 1344.4,480.93 1356.7,480.9C1369.0,480.93 1381.4,427.44 1393.7,413.3C1406.0,399.10 1418.4,395.90 1430.7,395.9C1443.0,395.90 1455.4,431.52 1467.7,450.3C1480.0,469.10 1492.4,505.64 1504.7,508.7C1517.0,511.67 1529.4,511.67 1541.7,511.7C1554.0,511.67 1566.4,509.67 1578.7,507.7C1591.0,505.67 1603.4,499.67 1615.7,499.7C1628.0,499.67 1640.4,524.97 1652.7,552.6C1665.0,580.19 1677.4,665.33 1689.7,665.3C1702.0,665.33 1714.4,510.62 1726.7,486.4C1739.0,462.11 1751.4,462.11 1763.7,462.1C1776.0,462.11 1788.4,468.99 1800.7,469.0C1813.0,468.99 1825.4,431.56 1837.7,431.6C1850.0,431.56 1862.4,458.18 1874.7,458.2C1887.0,458.18 1899.4,444.67 1911.7,444.7C1924.0,444.67 1936.4,448.93 1948.7,451.0C1961.0,453.00 1973.4,455.01 1985.7,456.9C1998.0,458.72 2010.4,460.36 2022.7,462.1C2035.0,463.86 2047.4,466.72 2059.7,467.4C2072.0,468.00 2084.4,467.87 2096.7,468.0L2096.7,665.3L135.7,665.3Z" fill="rgba(118,251,72,0.3)"/>
<path d="M135.7,382.8C148.0,382.87 160.4,382.79 172.7,385.0C185.0,387.25 197.4,498.82 209.7,498.8C222.0,498.82 234.4,404.93 246.7,398.5C259.0,392.11 271.4,393.34 283.7,392.0C296.0,390.59 308.4,375.58 320.7,375.6C333.0,375.58 345.4,382.82 357.7,383.4C370.0,384.07 382.4,383.91 394.7,384.1C407.0,384.29 419.4,386.07 431.7,386.1C444.0,386.07 456.4,373.61 468.7,373.6C481.0,373.61 493.4,442.12 505.7,442.1C518.0,442.12 530.4,428.02 542.7,428.0C555.0,428.02 567.4,530.55 579.7,530.6C592.0,530.55 604.4,517.11 616.7,494.9C629.0,472.67 641.4,413.60 653.7,397.2C666.0,380.82 678.4,380.82 690.7,380.8C703.0,380.82 715.4,380.88 727.7,381.8C740.0,382.73 752.4,385.25 764.7,386.4C777.0,387.54 789.4,388.69 801.7,388.7C814.0,388.69 826.4,387.38 838.7,387.4C851.0,387.38 863.4,387.92 875.7,388.7C888.0,389.45 900.4,391.97 912.7,392.0C925.0,391.97 937.4,389.45 949.7,388.7C962.0,387.92 974.4,387.51 986.7,387.4C999.0,387.24 1011.4,387.35 1023.7,387.0C1036.0,386.62 1048.4,382.79 1060.7,382.8C1073.0,382.79 1085.4,466.04 1097.7,466.0C1110.0,466.04 1122.4,426.47 1134.7,411.3C1147.0,396.14 1159.4,375.05 1171.7,375.1C1184.0,375.05 1196.4,375.05 1208.7,376.0C1221.0,377.02 1233.4,401.11 1245.7,417.2C1258.0,433.30 1270.4,472.60 1282.7,472.6C1295.0,472.60 1307.4,382.99 1319.7,383.0C1332.0,382.99 1344.4,480.93 1356.7,480.9C1369.0,480.93 1381.4,427.44 1393.7,413.3C1406.0,399.10 1418.4,395.90 1430.7,395.9C1443.0,395.90 1455.4,431.52 1467.7,450.3C1480.0,469.10 1492.4,505.64 1504.7,508.7C1517.0,511.67 1529.4,511.67 1541.7,511.7C1554.0,511.67 1566.4,509.67 1578.7,507.7C1591.0,505.67 1603.4,499.67 1615.7,499.7C1628.0,499.67 1640.4,524.97 1652.7,552.6C1665.0,580.19 1677.4,665.33 1689.7,665.3C1702.0,665.33 1714.4,510.62 1726.7,486.4C1739.0,462.11 1751.4,462.11 1763.7,462.1C1776.0,462.11 1788.4,468.99 1800.7,469.0C1813.0,468.99 1825.4,431.56 1837.7,431.6C1850.0,431.56 1862.4,458.18 1874.7,458.2C1887.0,458.18 1899.4,444.67 1911.7,444.7C1924.0,444.67 1936.4,448.93 1948.7,451.0C1961.0,453.00 1973.4,455.01 1985.7,456.9C1998.0,458.72 2010.4,460.36 2022.7,462.1C2035.0,463.86 2047.4,466.72 2059.7,467.4C2072.0,468.00 2084.4,467.87 2096.7,468.0" fill="none" stroke="rgba(83,165,81,0.7)" stroke-width="2"/>
<line x1="150.5" y1="665.4" x2="483.5" y2="665.4" stroke="rgba(70,90,75,0.55)" stroke-width="2.2"/>
</g>
<g id="labels">
<text x="128" y="280.6" text-anchor="end" fill="#666" font-size="24">6</text>
<text x="128" y="346.2" text-anchor="end" fill="#666" font-size="24">5</text>
<text x="128" y="411.7" text-anchor="end" fill="#666" font-size="24">4</text>
<text x="128" y="477.3" text-anchor="end" fill="#666" font-size="24">3</text>
<text x="128" y="542.8" text-anchor="end" fill="#666" font-size="24">2</text>
<text x="128" y="608.4" text-anchor="end" fill="#666" font-size="24">1</text>
<text x="128" y="673.9" text-anchor="end" fill="#666" font-size="24">0</text>
<text x="128" y="739.5" text-anchor="end" fill="#666" font-size="24">-1</text>
<text x="128" y="805.0" text-anchor="end" fill="#666" font-size="24">-2</text>
<text x="128" y="870.6" text-anchor="end" fill="#666" font-size="24">-3</text>
<text x="2099.2" y="280.6" fill="#666" font-size="24">100</text>
<text x="2099.2" y="339.6" fill="#666" font-size="24">90</text>
<text x="2099.2" y="398.6" fill="#666" font-size="24">80</text>
<text x="2099.2" y="457.6" fill="#666" font-size="24">70</text>
<text x="2099.2" y="516.6" fill="#666" font-size="24">60</text>
<text x="2099.2" y="575.6" fill="#666" font-size="24">50</text>
<text x="2099.2" y="634.6" fill="#666" font-size="24">40</text>
<text x="2099.2" y="693.6" fill="#666" font-size="24">30</text>
<text x="2099.2" y="752.6" fill="#666" font-size="24">20</text>
<text x="2099.2" y="811.6" fill="#666" font-size="24">10</text>
<text x="2099.2" y="870.6" fill="#666" font-size="24">0</text>
<text x="150.5" y="907.2" text-anchor="middle" fill="#666" font-size="24">12:42</text>
<text x="231.9" y="907.2" text-anchor="middle" fill="#666" font-size="24">12:53</text>
<text x="313.3" y="907.2" text-anchor="middle" fill="#666" font-size="24">13:04</text>
<text x="394.7" y="907.2" text-anchor="middle" fill="#666" font-size="24">13:15</text>
<text x="476.1" y="907.2" text-anchor="middle" fill="#666" font-size="24">13:26</text>
<text x="557.5" y="907.2" text-anchor="middle" fill="#666" font-size="24">13:37</text>
<text x="638.9" y="907.2" text-anchor="middle" fill="#666" font-size="24">13:48</text>
<text x="720.3" y="907.2" text-anchor="middle" fill="#666" font-size="24">13:59</text>
<text x="801.7" y="907.2" text-anchor="middle" fill="#666" font-size="24">14:10</text>
<text x="883.1" y="907.2" text-anchor="middle" fill="#666" font-size="24">14:21</text>
<text x="964.5" y="907.2" text-anchor="middle" fill="#666" font-size="24">14:32</text>
<text x="1045.9" y="907.2" text-anchor="middle" fill="#666" font-size="24">14:43</text>
<text x="1127.3" y="907.2" text-anchor="middle" fill="#666" font-size="24">14:54</text>
<text x="1208.7" y="907.2" text-anchor="middle" fill="#666" font-size="24">15:05</text>
<text x="1290.1" y="907.2" text-anchor="middle" fill="#666" font-size="24">15:16</text>
<text x="1371.5" y="907.2" text-anchor="middle" fill="#666" font-size="24">15:27</text>
<text x="1452.9" y="907.2" text-anchor="middle" fill="#666" font-size="24">15:38</text>
<text x="1534.3" y="907.2" text-anchor="middle" fill="#666" font-size="24">15:49</text>
<text x="1615.7" y="907.2" text-anchor="middle" fill="#666" font-size="24">16:00</text>
<text x="1697.1" y="907.2" text-anchor="middle" fill="#666" font-size="24">16:11</text>
<text x="1778.5" y="907.2" text-anchor="middle" fill="#666" font-size="24">16:22</text>
<text x="1859.9" y="907.2" text-anchor="middle" fill="#666" font-size="24">16:33</text>
<text x="1941.3" y="907.2" text-anchor="middle" fill="#666" font-size="24">16:44</text>
<text x="2022.7" y="907.2" text-anchor="middle" fill="#666" font-size="24">16:55</text>
<text x="1113.5" y="949.5" text-anchor="middle" fill="#666" font-size="24">Zeit</text>
<text transform="translate(85.1,567.5) rotate(-90)" text-anchor="middle" fill="#666" font-size="24">Leistung [kW]</text>
<text transform="translate(2161,567.2) rotate(90)" text-anchor="middle" fill="#666" font-size="24">SoC [%]</text>
</g>
</svg>
</body></html>
